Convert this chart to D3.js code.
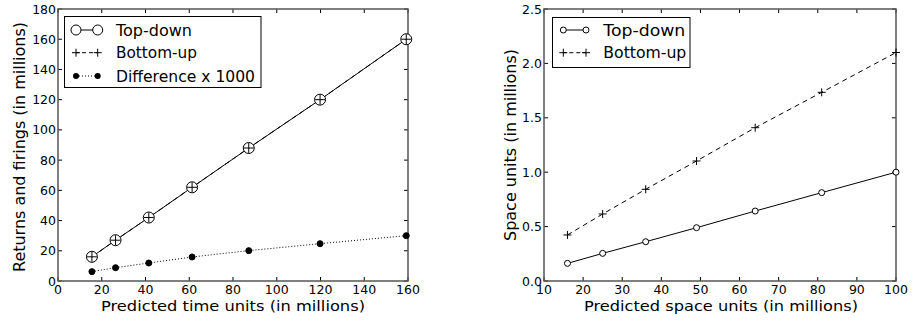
<!DOCTYPE html>
<html><head><meta charset="utf-8">
<script src="https://cdn.jsdelivr.net/npm/d3@7"></script>
<style>body{margin:0;background:#fff}svg{display:block}text{font-family:"DejaVu Sans",sans-serif;fill:#000}</style>
</head><body><svg id="c" width="912" height="322"></svg>
<script>
// Left chart data
const timeX = [15.5, 26.3, 41.5, 61.3, 87.2, 119.8, 159.2];
const timeTopDown = [16, 27, 42, 62, 88, 120, 160];
const timeBottomUp = [16, 27, 42, 62, 88, 120, 160];
const timeDiff = [6.2, 8.8, 11.9, 15.9, 20.1, 24.7, 30];
const leftXTicks = [0, 20, 40, 60, 80, 100, 120, 140, 160];
const leftYTicks = [0, 20, 40, 60, 80, 100, 120, 140, 160, 180];
// Right chart data
const spaceX = [16, 25, 36, 49, 64, 81, 100];
const spaceTopDown = [0.162, 0.254, 0.361, 0.49, 0.643, 0.812, 1.0];
const spaceBottomUp = [0.423, 0.616, 0.843, 1.103, 1.409, 1.734, 2.10];
const rightXTicks = [10, 20, 30, 40, 50, 60, 70, 80, 90, 100];
const rightYTicks = [0, 0.5, 1.0, 1.5, 2.0, 2.5];

const svg = d3.select("#c");

function panel(o) {
  const g = svg.append("g");
  const x = d3.scaleLinear().domain(o.xd).range([o.x0, o.x1]);
  const y = d3.scaleLinear().domain(o.yd).range([o.y1, o.y0]);
  const tl = 4;
  o.xt.forEach(t => {
    g.append("line").attr("x1", x(t)).attr("x2", x(t)).attr("y1", o.y1).attr("y2", o.y1 - tl).attr("stroke", "#000");
    g.append("line").attr("x1", x(t)).attr("x2", x(t)).attr("y1", o.y0).attr("y2", o.y0 + tl).attr("stroke", "#000");
    g.append("text").attr("x", x(t)).attr("y", o.y1 + 12.5).attr("text-anchor", "middle").attr("font-size", 12.5).text(o.xf(t));
  });
  o.yt.forEach(t => {
    g.append("line").attr("x1", o.x0).attr("x2", o.x0 + tl).attr("y1", y(t)).attr("y2", y(t)).attr("stroke", "#000");
    g.append("line").attr("x1", o.x1).attr("x2", o.x1 - tl).attr("y1", y(t)).attr("y2", y(t)).attr("stroke", "#000");
    g.append("text").attr("x", o.x0 - 2).attr("y", y(t) + 4.5).attr("text-anchor", "end").attr("font-size", 12.5).text(o.yf(t));
  });
  g.append("rect").attr("x", o.x0).attr("y", o.y0).attr("width", o.x1 - o.x0).attr("height", o.y1 - o.y0)
    .attr("fill", "none").attr("stroke", "#555").attr("stroke-width", 1.5);
  g.append("text").attr("x", o.xlc).attr("y", 311).attr("text-anchor", "middle").attr("font-size", 14.5)
    .attr("textLength", o.xlw).attr("lengthAdjust", "spacingAndGlyphs").text(o.xl);
  g.append("text").attr("transform", `translate(${o.ylx},${o.ylc}) rotate(-90)`).attr("text-anchor", "middle").attr("font-size", 16.5)
    .attr("textLength", o.ylw).attr("lengthAdjust", "spacingAndGlyphs").text(o.yl);
  return {g, x, y};
}

function drawLine(g, x, y, xs, ys, dash) {
  const line = d3.line().x((d, i) => x(xs[i])).y(d => y(d));
  g.append("path").attr("d", line(ys)).attr("fill", "none").attr("stroke", "#000").attr("stroke-width", 1)
    .attr("stroke-dasharray", dash);
}
function circles(g, x, y, xs, ys, r, fill) {
  g.selectAll(null).data(ys).enter().append("circle").attr("cx", (d, i) => x(xs[i])).attr("cy", d => y(d))
    .attr("r", r).attr("fill", fill).attr("stroke", "#000").attr("stroke-width", 1);
}
function plus(g, x, y, xs, ys, s) {
  ys.forEach((d, i) => {
    const cx = x(xs[i]), cy = y(d);
    g.append("path").attr("d", `M${cx - s},${cy}H${cx + s}M${cx},${cy - s}V${cy + s}`).attr("stroke", "#000").attr("stroke-width", 1);
  });
}

// Left
const L = panel({x0: 58, x1: 408, y0: 9, y1: 281, xd: [0, 160], yd: [0, 180], xt: leftXTicks, yt: leftYTicks,
  xf: d => d, yf: d => d, xl: "Predicted time units (in millions)", yl: "Returns and firings (in millions)",
  ylx: 25, xlc: 233, xlw: 264, ylc: 147, ylw: 250});
drawLine(L.g, L.x, L.y, timeX, timeDiff, "1,2");
circles(L.g, L.x, L.y, timeX, timeDiff, 3, "#000");
drawLine(L.g, L.x, L.y, timeX, timeBottomUp, "5,4");
drawLine(L.g, L.x, L.y, timeX, timeTopDown, null);
circles(L.g, L.x, L.y, timeX, timeTopDown, 5.5, "#fff");
plus(L.g, L.x, L.y, timeX, timeBottomUp, 5);

{
  const g = L.g;
  g.append("rect").attr("x", 64.5).attr("y", 16.5).attr("width", 196.5).attr("height", 71).attr("fill", "#fff").attr("stroke", "#000");
  const rows = [30, 52.7, 76];
  const lx0 = 76, lx1 = 97.7;
  g.append("line").attr("x1", lx0).attr("x2", lx1).attr("y1", rows[0]).attr("y2", rows[0]).attr("stroke", "#000");
  [lx0, lx1].forEach(px => g.append("circle").attr("cx", px).attr("cy", rows[0]).attr("r", 5).attr("fill", "#fff").attr("stroke", "#000"));
  g.append("line").attr("x1", lx0).attr("x2", lx1).attr("y1", rows[1]).attr("y2", rows[1]).attr("stroke", "#000").attr("stroke-dasharray", "4,3").attr("stroke-dashoffset", -6);
  [lx0, lx1].forEach(px => g.append("path").attr("d", `M${px - 4},${rows[1]}H${px + 4}M${px},${rows[1] - 4}V${rows[1] + 4}`).attr("stroke", "#000"));
  g.append("line").attr("x1", lx0).attr("x2", lx1).attr("y1", rows[2]).attr("y2", rows[2]).attr("stroke", "#000").attr("stroke-dasharray", "1,2");
  [lx0, lx1].forEach(px => g.append("circle").attr("cx", px).attr("cy", rows[2]).attr("r", 3).attr("fill", "#000"));
  const widths = [76, 81, 139];
  ["Top-down", "Bottom-up", "Difference x 1000"].forEach((t, i) =>
    g.append("text").attr("x", 116).attr("y", rows[i] + 5.5).attr("font-size", 16)
      .attr("textLength", widths[i]).attr("lengthAdjust", "spacingAndGlyphs").text(t));
}

// Right
const R = panel({x0: 544, x1: 896, y0: 9, y1: 281, xd: [10, 100], yd: [0, 2.5], xt: rightXTicks, yt: rightYTicks,
  xf: d => d, yf: d => d.toFixed(1), xl: "Predicted space units (in millions)", yl: "Space units (in millions)",
  ylx: 516, xlc: 721, xlw: 274, ylc: 145, ylw: 192});
drawLine(R.g, R.x, R.y, spaceX, spaceBottomUp, "5,4");
drawLine(R.g, R.x, R.y, spaceX, spaceTopDown, null);
circles(R.g, R.x, R.y, spaceX, spaceTopDown, 3, "#fff");
plus(R.g, R.x, R.y, spaceX, spaceBottomUp, 4);
{
  const g = R.g;
  g.append("rect").attr("x", 552.5).attr("y", 17.5).attr("width", 137.5).attr("height", 50).attr("fill", "#fff").attr("stroke", "#000");
  const rows = [30, 52.7];
  const lx0 = 563.3, lx1 = 586;
  g.append("line").attr("x1", lx0).attr("x2", lx1).attr("y1", rows[0]).attr("y2", rows[0]).attr("stroke", "#000");
  [lx0, lx1].forEach(px => g.append("circle").attr("cx", px).attr("cy", rows[0]).attr("r", 3).attr("fill", "#fff").attr("stroke", "#000"));
  g.append("line").attr("x1", lx0).attr("x2", lx1).attr("y1", rows[1]).attr("y2", rows[1]).attr("stroke", "#000").attr("stroke-dasharray", "4,3").attr("stroke-dashoffset", -6);
  [lx0, lx1].forEach(px => g.append("path").attr("d", `M${px - 4},${rows[1]}H${px + 4}M${px},${rows[1] - 4}V${rows[1] + 4}`).attr("stroke", "#000"));
  const widths = [82, 83];
  ["Top-down", "Bottom-up"].forEach((t, i) =>
    g.append("text").attr("x", 603.3).attr("y", rows[i] + 5.5).attr("font-size", 16)
      .attr("textLength", widths[i]).attr("lengthAdjust", "spacingAndGlyphs").text(t));
}
</script></body></html>
